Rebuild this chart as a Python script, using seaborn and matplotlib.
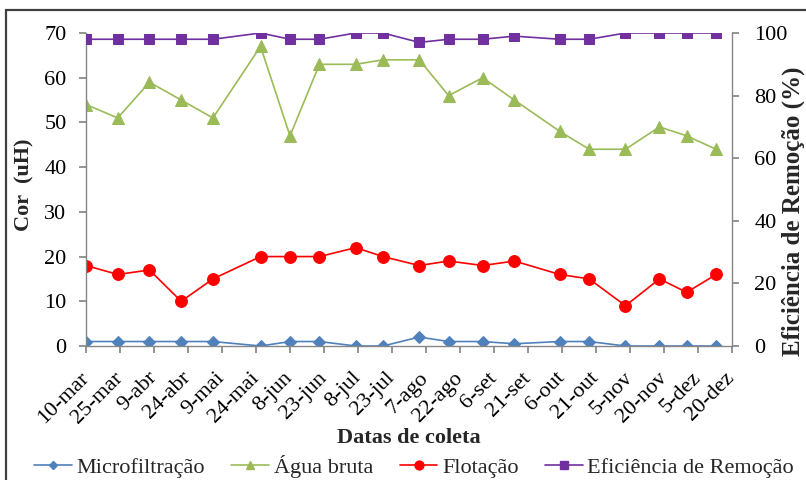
import matplotlib
matplotlib.use("Agg")
import matplotlib.pyplot as plt
import seaborn as sns
import pandas as pd
from matplotlib.lines import Line2D
from matplotlib.patches import Rectangle

# Sampling dates
datas = ["2011-03-10", "2011-03-24", "2011-04-07", "2011-04-21", "2011-05-05",
         "2011-05-26", "2011-06-08", "2011-06-21", "2011-07-07", "2011-07-19",
         "2011-08-04", "2011-08-17", "2011-09-01", "2011-09-15", "2011-10-05",
         "2011-10-18", "2011-11-03", "2011-11-18", "2011-11-30", "2011-12-13"]

# Colour (uH) per treatment stage
microfiltracao = [1, 1, 1, 1, 1, 0, 1, 1, 0, 0, 2, 1, 1, 0.5, 1, 1, 0, 0, 0, 0]
agua_bruta = [54, 51, 59, 55, 51, 67, 47, 63, 63, 64, 64, 56, 60, 55, 48, 44, 44, 49, 47, 44]
flotacao = [18, 16, 17, 10, 15, 20, 20, 20, 22, 20, 18, 19, 18, 19, 16, 15, 9, 15, 12, 16]

# Removal efficiency (%)
eficiencia = [98, 98, 98, 98, 98, 100, 98, 98, 100, 100, 97, 98, 98, 99, 98, 98, 100, 100, 100, 100]

# Axis tick labels (every 15 days)
tick_start = "2011-03-10"
tick_labels = ["10-mar", "25-mar", "9-abr", "24-abr", "9-mai", "24-mai", "8-jun", "23-jun",
               "8-jul", "23-jul", "7-ago", "22-ago", "6-set", "21-set", "6-out", "21-out",
               "5-nov", "20-nov", "5-dez", "20-dez"]

series_names = ["Microfiltração", "Água bruta", "Flotação", "Eficiência de Remoção"]
colors = ["#4F81BD", "#9BBB59", "#FF0000", "#7030A0"]
markers = ["D", "^", "o", "s"]
msizes = [6, 8.5, 8.5, 7.5]

sns.set_theme(style="white")
plt.rcParams["font.family"] = ["Liberation Serif", "DejaVu Serif"]
FS = 16

df = pd.DataFrame({
    "data": pd.to_datetime(datas),
    "Microfiltração": microfiltracao,
    "Água bruta": agua_bruta,
    "Flotação": flotacao,
    "Eficiência de Remoção": eficiencia,
})

W, H = 806, 480
fig = plt.figure(figsize=(W / 100, H / 100), dpi=100)
ax = fig.add_axes([86 / W, 1 - 346 / H, (732 - 86) / W, (346 - 33) / H])
ax2 = ax.twinx()

for name, c, m, ms in zip(series_names[:3], colors[:3], markers[:3], msizes[:3]):
    sns.lineplot(data=df, x="data", y=name, ax=ax, color=c, marker=m, markersize=ms,
                 markeredgecolor=c, linewidth=1.2, legend=False)
sns.lineplot(data=df, x="data", y=series_names[3], ax=ax2, color=colors[3], marker=markers[3],
             markersize=msizes[3], markeredgecolor=colors[3], linewidth=1.2, legend=False)

tick_dates = pd.date_range(tick_start, periods=len(tick_labels), freq="15D")
ax.set_xlim(tick_dates[0], tick_dates[-1])
ax.set_xticks(tick_dates)
ax.set_xticklabels(tick_labels, rotation=45, ha="right", va="center", rotation_mode="anchor")

ax.set_ylim(0, 70)
ax.set_yticks(range(0, 71, 10))
ax2.set_ylim(0, 100)
ax2.set_yticks(range(0, 101, 20))

axis_gray = "#868686"
for a in (ax, ax2):
    for s in a.spines.values():
        s.set_visible(False)
    a.set_xlabel("")
    a.set_ylabel("")
ax.spines["left"].set_visible(True)
ax.spines["bottom"].set_visible(True)
ax2.spines["right"].set_visible(True)
for s in (ax.spines["left"], ax.spines["bottom"], ax2.spines["right"]):
    s.set_color(axis_gray)
    s.set_linewidth(1.0)

ax.tick_params(axis="y", left=True, direction="out", length=5, color=axis_gray,
               pad=9, labelsize=FS, labelcolor="black")
ax.tick_params(axis="x", bottom=True, direction="out", length=5, color=axis_gray,
               pad=16, labelsize=FS, labelcolor="black")
ax2.tick_params(axis="y", right=True, direction="out", length=5, color=axis_gray,
                pad=11, labelsize=FS, labelcolor="black")

fig.text(24 / W, 1 - 185 / H, "Cor  (uH)", rotation=90, ha="center", va="center",
         fontsize=FS, fontweight="bold")
fig.text(793 / W, 1 - 211 / H, "Eficiência de Remoção (%)", rotation=90, ha="center",
         va="center", fontsize=18, fontweight="bold")
fig.text(409 / W, 1 - 438 / H, "Datas de coleta", ha="center", va="center",
         fontsize=FS, fontweight="bold")

handles = [Line2D([0], [0], color=c, marker=m, markersize=ms * 0.75, markeredgecolor=c,
                  linewidth=1.2) for c, m, ms in zip(colors, markers, msizes)]
fig.legend(handles, series_names, loc="center", bbox_to_anchor=(414 / W, 1 - 466 / H),
           ncol=4, frameon=False, fontsize=FS, handlelength=1.7, handletextpad=0.2,
           columnspacing=1.2, borderaxespad=0, borderpad=0)

fig.add_artist(Rectangle((6 / W, -0.2), 1.3, 1.2 - 9.5 / H, transform=fig.transFigure,
                         fill=False, edgecolor="#404040", linewidth=1.6, clip_on=False))

fig.savefig("out.png", dpi=100)
